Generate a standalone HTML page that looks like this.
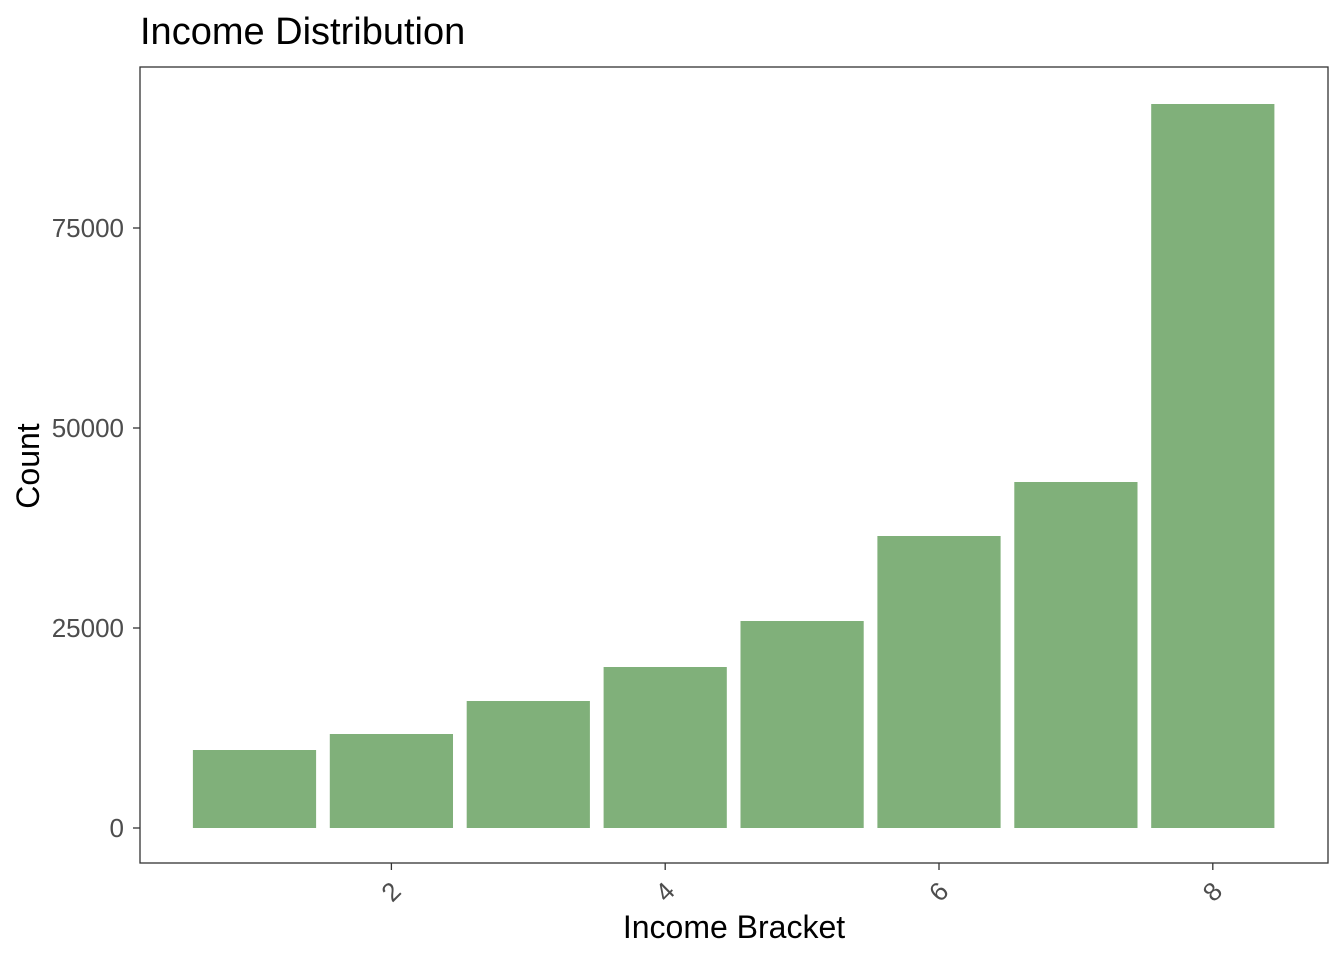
<!DOCTYPE html>
<html><head><meta charset="utf-8"><style>
body{margin:0;background:#fff;}
svg text{font-family:"Liberation Sans",Arial,sans-serif;}
</style></head><body>
<svg id="chart" width="1344" height="960">
<text x="140" y="44" font-size="38" fill="#000">Income Distribution</text>
<rect x="140" y="67" width="1188" height="796" fill="none" stroke="#333" stroke-width="1.3"/>
<g id="bars"></g>
<g id="yaxis"></g>
<g id="xaxis"></g>
<text x="734" y="938" font-size="32" text-anchor="middle">Income Bracket</text>
<text transform="translate(39,466) rotate(-90)" font-size="32" text-anchor="middle">Count</text>
</svg>
<script>
const categories=[1,2,3,4,5,6,7,8];
const counts=[9750,11750,15875,20125,25875,36500,43250,90500];
const yTicks=[0,25000,50000,75000];
const xTicks=[2,4,6,8];
const NS="http://www.w3.org/2000/svg";
function xs(v){return 254.5+(v-1)*136.9;}
function ys(v){return 828-v*0.008;}
const bw=0.9*136.9;
const gb=document.getElementById('bars');
categories.forEach((c,i)=>{
const r=document.createElementNS(NS,'rect');
r.setAttribute('x',xs(c)-bw/2);r.setAttribute('y',ys(counts[i]));
r.setAttribute('width',bw);r.setAttribute('height',ys(0)-ys(counts[i]));
r.setAttribute('fill','#80b07a');


gb.appendChild(r);});
const gy=document.getElementById('yaxis');
yTicks.forEach(t=>{
const l=document.createElementNS(NS,'line');
l.setAttribute('x1',133);l.setAttribute('x2',140);l.setAttribute('y1',ys(t));l.setAttribute('y2',ys(t));
l.setAttribute('stroke','#333');l.setAttribute('stroke-width',1.3);


gy.appendChild(l);
const tx=document.createElementNS(NS,'text');
tx.setAttribute('x',124);tx.setAttribute('y',ys(t)+9);tx.setAttribute('text-anchor','end');
tx.setAttribute('font-size',26);tx.setAttribute('fill','#4d4d4d');tx.textContent=t;


gy.appendChild(tx);});
const gx=document.getElementById('xaxis');
xTicks.forEach(t=>{
const l=document.createElementNS(NS,'line');
l.setAttribute('x1',xs(t));l.setAttribute('x2',xs(t));l.setAttribute('y1',863);l.setAttribute('y2',870);
l.setAttribute('stroke','#333');l.setAttribute('stroke-width',1.3);


gx.appendChild(l);
const tx=document.createElementNS(NS,'text');
tx.setAttribute('transform','translate('+(xs(t)+6)+',898) rotate(-45)');
tx.setAttribute('text-anchor','middle');
tx.setAttribute('font-size',26);tx.setAttribute('fill','#4d4d4d');tx.textContent=t;


gx.appendChild(tx);});
</script>
</body></html>
